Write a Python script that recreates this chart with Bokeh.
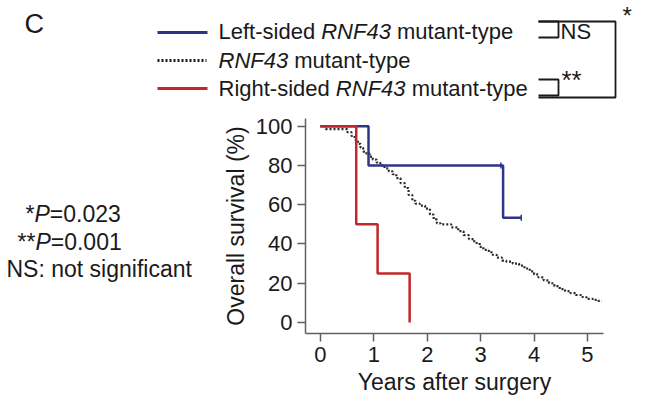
from bokeh.plotting import figure
from bokeh.models import Range1d, FixedTicker
from bokeh.core.properties import value
from bokeh.embed import file_html
from bokeh.resources import INLINE

# ---------------- data ----------------
left_t = [0, 0.90, 3.42, 3.76]
left_s = [100, 80, 53.3, 53.3]
left_cens_t = [3.38, 3.76]
left_cens_s = [80, 53.3]

right_t = [0, 0.67, 1.07, 1.67]
right_s = [100, 50, 25, 0]

all_t = [0, 0.10, 0.50, 0.58, 0.64, 0.70, 0.75, 0.80, 0.86, 0.92,
         0.98, 1.05, 1.12, 1.20, 1.28, 1.35, 1.42, 1.50, 1.58, 1.65,
         1.72, 1.78, 1.86, 1.96, 2.05, 2.12, 2.18, 2.25, 2.45, 2.58,
         2.68, 2.78, 2.88, 2.98, 3.05, 3.12, 3.20, 3.30, 3.40, 3.48,
         3.60, 3.72, 3.82, 3.92, 4.00, 4.08, 4.18, 4.28, 4.38, 4.48,
         4.58, 4.68, 4.78, 4.88, 4.98, 5.10, 5.20, 5.27]
all_s = [100, 98.5, 97, 95, 93, 91, 89, 87, 86, 84.5,
         83, 81.5, 80, 78.5, 77, 75.5, 73.5, 71, 68.5, 65,
         62, 60.5, 59.5, 58, 55, 52.5, 50.5, 50, 48.5, 46.5,
         44.5, 42.5, 40.5, 38.5, 37, 36.5, 34.5, 33, 31.5, 31,
         30, 29, 27.5, 26, 24.5, 23, 21.5, 20, 18.5, 17,
         16, 15, 14, 13, 12, 11.5, 11, 11]

x_ticks = [0, 1, 2, 3, 4, 5]
y_ticks = [0, 20, 40, 60, 80, 100]

BLUE = "#2d3589"
RED = "#c1272d"
DOT = "#2a2a2a"
FONT = "Liberation Sans"

# ---------------- layout (page pixels) ----------------
W, H = 638, 405
PL, PR, PT, PB = 305, 603, 118, 333          # frame in page px
XR = (-0.28, 5.30)
YR = (-5.6, 103.9)


def dx(px):
    return XR[0] + (px - PL) / (PR - PL) * (XR[1] - XR[0])


def dy(py):
    return YR[0] + (PB - py) / (PB - PT) * (YR[1] - YR[0])


p = figure(width=W, height=H, output_backend="svg", toolbar_location=None,
           x_range=Range1d(*XR), y_range=Range1d(*YR),
           min_border_left=PL, min_border_right=W - PR,
           min_border_top=PT, min_border_bottom=H - PB)
p.outline_line_color = None
p.xgrid.visible = False
p.ygrid.visible = False
p.background_fill_color = "white"
p.border_fill_color = "white"

for ax, ticks in ((p.xaxis, x_ticks), (p.yaxis, y_ticks)):
    ax.ticker = FixedTicker(ticks=ticks)
    ax.major_tick_out = 8
    ax.major_tick_in = 0
    ax.minor_tick_line_color = None
    ax.axis_line_color = "#606060"
    ax.axis_line_width = 1.5
    ax.major_tick_line_color = "#606060"
    ax.major_tick_line_width = 1.5
    ax.major_label_text_font = FONT
    ax.major_label_text_font_size = "22px"
    ax.major_label_text_color = "#1a1a1a"
    ax.axis_label_text_font = FONT
    ax.axis_label_text_font_size = "23px"
    ax.axis_label_text_font_style = "normal"
    ax.axis_label_text_color = "#1a1a1a"
    ax.major_label_standoff = 5

p.xaxis.axis_label = "Years after surgery"
p.yaxis.axis_label = "Overall survival (%)"
p.xaxis.axis_label_standoff = 4
p.yaxis.axis_label_standoff = 4

# ---------------- curves ----------------
p.step(all_t, all_s, mode="after", line_color=DOT, line_width=2.2, line_dash="2 2")
p.step(left_t, left_s, mode="after", line_color=BLUE, line_width=2.5)
p.step(right_t, right_s, mode="after", line_color=RED, line_width=2.5)
p.scatter(left_cens_t, left_cens_s, marker="dash", angle=1.5708, size=6,
          line_color=BLUE, line_width=1.5)

# ---------------- text helpers ----------------
AW = {' ': 278, '-': 333, ':': 278, '=': 584, '.': 278, '*': 389, '(': 333, ')': 333,
      '%': 889, 'a': 556, 'c': 500, 'd': 556, 'e': 556, 'f': 278, 'g': 556, 'h': 556,
      'i': 222, 'l': 222, 'm': 833, 'n': 556, 'o': 556, 'p': 556, 'r': 333, 's': 500,
      't': 278, 'u': 556, 'v': 500, 'y': 500, 'L': 556, 'N': 722, 'R': 722, 'F': 611,
      'S': 667, 'P': 667, 'C': 722, 'Y': 667}


def tw(s, size):
    return sum(AW.get(c, 556) for c in s) * size / 1000.0


def rich(parts, px, py, size=22):
    x = px
    for txt, style in parts:
        lead = len(txt) - len(txt.lstrip(" "))
        core = txt.strip(" ")
        if core:
            p.text(x=[dx(x + tw(" " * lead, size))], y=[dy(py)], text=[core],
                   text_font=value(FONT), text_font_size=f"{size}px",
                   text_font_style=style, text_baseline="middle", text_align="left",
                   text_color="#1a1a1a", level="overlay")
        x += tw(txt, size)


def seg(pxs, pys, color="#1a1a1a", width=1.8, dash="solid"):
    p.line([dx(v) for v in pxs], [dy(v) for v in pys], line_color=color,
           line_width=width, line_dash=dash, level="overlay")


# panel letter
rich([("C", "normal")], 24, 23, size=27)

# legend
seg([157, 207], [32, 32], BLUE, 3)
seg([157, 206], [60, 60], "#1a1a1a", 3, "2 2")
seg([157, 207], [88, 88], RED, 3)
rich([("Left-sided ", "normal"), ("RNF43", "italic"), (" mutant-type", "normal")], 218, 31)
rich([("RNF43", "italic"), (" mutant-type", "normal")], 218, 60)
rich([("Right-sided ", "normal"), ("RNF43", "italic"), (" mutant-type", "normal")], 218, 88)

# significance brackets
seg([538, 615, 615, 538], [21, 21, 97, 97])
seg([538, 558, 558, 538], [21, 21, 37, 37])
seg([538, 558, 558, 538], [79, 79, 95, 95])
rich([("NS", "normal")], 560, 31)
rich([("**", "normal")], 561, 79, size=26)
rich([("*", "normal")], 622, 15, size=24)

# p-value notes
rich([("*", "normal"), ("P", "italic"), ("=0.023", "normal")], 25, 213, size=23)
rich([("**", "normal"), ("P", "italic"), ("=0.001", "normal")], 17, 241, size=23)
rich([("NS: not significant", "normal")], 6, 268, size=23)

open("out.html", "w").write(file_html(p, INLINE))
